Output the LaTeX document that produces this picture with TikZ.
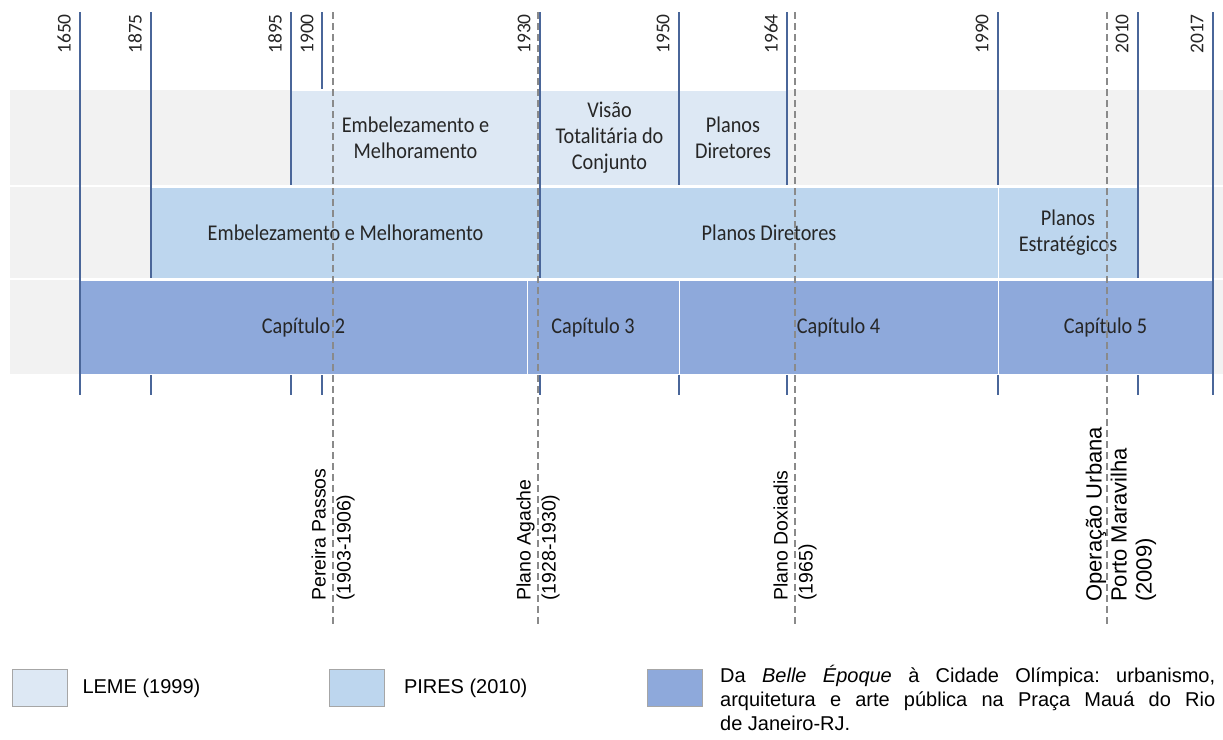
\documentclass[tikz,border=0pt]{standalone}
\usepackage{fontspec}
\setmainfont{Carlito}
\newfontfamily\arialf{Liberation Sans}
\newfontfamily\boxfont[FakeStretch=0.9]{Carlito}
\definecolor{bggray}{HTML}{F2F2F2}
\definecolor{lemec}{HTML}{DDE8F4}
\definecolor{piresc}{HTML}{BDD6EE}
\definecolor{capc}{HTML}{8EA9DB}
\definecolor{lineblue}{HTML}{4A6699}
\definecolor{dashgray}{HTML}{8A8A8A}
\definecolor{txt}{HTML}{262626}
\begin{document}
\begin{tikzpicture}[x=1pt,y=-1pt,
  yearlbl/.style={rotate=90, anchor=east, inner sep=0pt, text=txt, font=\fontsize{19.5}{20}\selectfont},
  bx/.style={draw=white, line width=1pt, inner sep=0pt, align=center, text=txt, font=\boxfont\fontsize{22.5}{26}\selectfont},
  vline/.style={draw=lineblue, line width=1.6pt},
  evline/.style={draw=dashgray, line width=1.6pt, dash pattern=on 7pt off 4pt},
  evlbl/.style={rotate=90, anchor=west, align=left, inner sep=0pt, text=black, font=\arialf\fontsize{19.5}{25}\selectfont},
  legsq/.style={draw=black!35, line width=0.6pt, minimum width=55pt, minimum height=37pt, inner sep=0pt},
  legtxt/.style={anchor=west, align=left, inner sep=0pt, text=black, font=\arialf\fontsize{20}{24}\selectfont}
]
\useasboundingbox (0,0) rectangle (1223,739);
% background rows
\fill[bggray] (10,90) rectangle (1223,185);
\fill[bggray] (10,187) rectangle (1223,278);
\fill[bggray] (10,280) rectangle (1223,374);
% row 1 (LEME)
\node[bx, fill=lemec, minimum width=249pt, minimum height=95pt] (l1) at (415.5,137.5) {Embelezamento e\\Melhoramento};
\node[bx, fill=lemec, minimum width=139pt, minimum height=95pt] (l2) at (609.5,137.5) {Visão\\Totalitária do\\Conjunto};
\node[bx, fill=lemec, minimum width=108pt, minimum height=95pt] (l3) at (733,137.5) {Planos\\Diretores};
% row 2 (PIRES)
\node[bx, fill=piresc, minimum width=389pt, minimum height=91pt] (p1) at (345.5,232.5) {Embelezamento e Melhoramento};
\node[bx, fill=piresc, minimum width=458pt, minimum height=91pt] (p2) at (769,232.5) {Planos Diretores};
\node[bx, fill=piresc, minimum width=140pt, minimum height=91pt] (p3) at (1068,232.5) {Planos\\Estratégicos};
% row 3 (chapters)
\node[bx, fill=capc, minimum width=447pt, minimum height=94pt] (c2) at (303.5,327) {Capítulo 2};
\node[bx, fill=capc, minimum width=152pt, minimum height=94pt] (c3) at (603,327) {Capítulo 3\hspace*{20pt}};
\node[bx, fill=capc, minimum width=319pt, minimum height=94pt] (c4) at (838.5,327) {Capítulo 4};
\node[bx, fill=capc, minimum width=215pt, minimum height=94pt] (c5) at (1105.5,327) {Capítulo 5};
% year lines
\draw[vline] (80,12) -- (80,395);
\draw[vline] (151,12) -- (151,278) (151,375) -- (151,395);
\draw[vline] (291,12) -- (291,185) (291,375) -- (291,395);
\draw[vline] (322,12) -- (322,89) (322,375) -- (322,395);
\draw[vline] (540,12) -- (540,278) (540,375) -- (540,395);
\draw[vline] (679,12) -- (679,185) (679,375) -- (679,395);
\draw[vline] (787,12) -- (787,185) (787,375) -- (787,395);
\draw[vline] (998,12) -- (998,185) (998,375) -- (998,395);
\draw[vline] (1138,12) -- (1138,278) (1138,375) -- (1138,395);
\draw[vline] (1213,12) -- (1213,395);
% year labels
\node[yearlbl] (y1650) at (64,14) {1650};
\node[yearlbl] (y1875) at (135,14) {1875};
\node[yearlbl] (y1895) at (275,14) {1895};
\node[yearlbl] (y1900) at (307,14) {1900};
\node[yearlbl] (y1930) at (524,14) {1930};
\node[yearlbl] (y1950) at (663,14) {1950};
\node[yearlbl] (y1964) at (771,14) {1964};
\node[yearlbl] (y1990) at (982,14) {1990};
\node[yearlbl] (y2010) at (1122,14) {2010};
\node[yearlbl] (y2017) at (1197,14) {2017};
% event lines
\coordinate (e1t) at (333,12); \coordinate (e1b) at (333,627);
\coordinate (e2t) at (538,12); \coordinate (e2b) at (538,627);
\coordinate (e3t) at (795,12); \coordinate (e3b) at (795,627);
\coordinate (e4t) at (1107,12); \coordinate (e4b) at (1107,627);
\draw[evline] (e1t) -- (e1b);
\draw[evline] (e2t) -- (e2b);
\draw[evline] (e3t) -- (e3b);
\draw[evline] (e4t) -- (e4b);
% event labels
\node[evlbl] (ev1) at (333,601) {Pereira Passos\\(1903-1906)};
\node[evlbl] (ev2) at (538,601) {Plano Agache\\(1928-1930)};
\node[evlbl] (ev3) at (795,601) {Plano Doxiadis\\(1965)};
\node[evlbl, font=\arialf\fontsize{22}{25}\selectfont] (ev4) at (1121,602) {Operação Urbana\\Porto Maravilha\\(2009)};
% legend
\node[legsq, fill=lemec] (k1) at (39.5,688) {};
\node[legtxt] (t1) at ([xshift=15pt]k1.east) {LEME (1999)};
\node[legsq, fill=piresc] (k2) at (357,688) {};
\node[legtxt] (t2) at ([xshift=19pt]k2.east) {PIRES (2010)};
\node[legsq, fill=capc] (k3) at (674.5,688) {};
\node[legtxt, align=justify, text width=495pt] (t3) at (720,698) {\frenchspacing Da \textit{Belle Époque} à Cidade Olímpica: urbanismo,\linebreak arquitetura e arte pública na Praça Mauá do Rio\linebreak de Janeiro-RJ.};
\end{tikzpicture}
\end{document}
